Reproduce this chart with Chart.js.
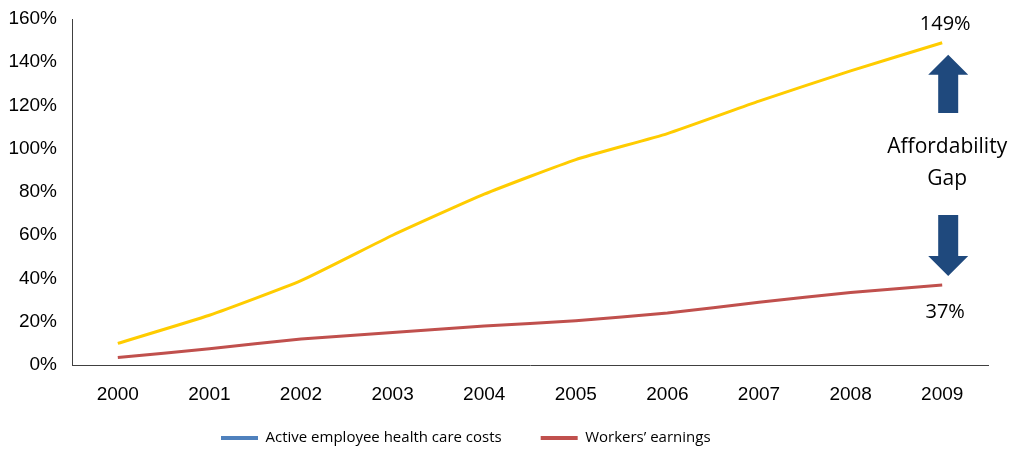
<!DOCTYPE html>
<html>
<head>
<meta charset="utf-8">
<script src="https://cdn.jsdelivr.net/npm/chart.js@4"></script>
<style>
html, body { margin:0; padding:0; background:#fff; }
#wrap { width:1010px; height:449px; }
</style>
</head>
<body>
<div id="wrap"><canvas id="chart" width="1010" height="449"></canvas></div>
<script>

const years = ["2000","2001","2002","2003","2004","2005","2006","2007","2008","2009"]
const healthCosts = [10, 23, 39, 60, 79, 95, 107, 122, 136, 149]
const earnings = [3.5, 7.5, 12, 15, 18, 20.5, 24, 29, 33.5, 37]
const seriesNames = ["Active employee health care costs", "Workers\u2019 earnings"]
const lineColors = ["#ffcc00", "#c0504d"]
const legendColors = ["#4f81bd", "#c0504d"]
const endLabels = ["149%", "37%"]
const gapLabel = ["Affordability", "Gap"]

const legendPad = 39
const legendSize = 15

// moves legend into place after the layout has run
const legendShift = {
id: "legendShift",
afterLayout(chart){
const lg = chart.legend
const dx = 221 - (lg.left + legendPad)
const dy = 438 - (lg.top + legendPad + legendSize / 2)
lg.left += dx
lg.right += dx
lg.top += dy
lg.bottom += dy
}
}

function arrow(ctx, cx, yTip, yEnd, up){
const headH = 20, headW = 20, shaftW = 10
const dir = up ? 1 : -1
const yBase = yTip + dir * headH
ctx.beginPath()
ctx.moveTo(cx, yTip)
ctx.lineTo(cx + headW, yBase)
ctx.lineTo(cx + shaftW, yBase)
ctx.lineTo(cx + shaftW, yEnd)
ctx.lineTo(cx - shaftW, yEnd)
ctx.lineTo(cx - shaftW, yBase)
ctx.lineTo(cx - headW, yBase)
ctx.closePath()
ctx.fill()
}

const gapNotes = {
id: "gapNotes",
afterDraw(chart){
const ctx = chart.ctx
const x = chart.scales.x.getPixelForValue(years.length - 1)
const yTop = chart.scales.y.getPixelForValue(healthCosts[healthCosts.length - 1])
const yBot = chart.scales.y.getPixelForValue(earnings[earnings.length - 1])
ctx.save()
ctx.fillStyle = "#000"
ctx.textAlign = "center"
ctx.textBaseline = "middle"
ctx.font = "20px 'Open Sans'"
ctx.fillText(endLabels[0], x + 3, yTop - 18)
ctx.fillText(endLabels[1], x + 3, yBot + 27)
ctx.font = "21px 'Open Sans'"
ctx.fillText(gapLabel[0], x + 5, 147)
ctx.fillText(gapLabel[1], x + 5, 179)
ctx.fillStyle = "#1f497d"
arrow(ctx, x + 6, yTop + 12, 113, true)
arrow(ctx, x + 6, yBot - 9, 215, false)
ctx.restore()
}
}

new Chart(document.getElementById("chart"), {
type: "line",
data: {
labels: years,
datasets: [
{
label: seriesNames[0],
data: healthCosts,
borderColor: lineColors[0],
backgroundColor: lineColors[0],
borderWidth: 3,
pointRadius: 0,
tension: 0.15
},
{
label: seriesNames[1],
data: earnings,
borderColor: lineColors[1],
backgroundColor: lineColors[1],
borderWidth: 3,
pointRadius: 0,
tension: 0.15
}
]
},
options: {
responsive: false,
animation: false,
layout: { padding: { top: 19, right: 22, left: 0, bottom: -20 } },
plugins: {
tooltip: { enabled: false },
legend: {
position: "bottom",
align: "start",
labels: {
color: "#000",
font: { family: "'Open Sans'", size: legendSize },
boxWidth: 37,
boxHeight: 4,
padding: legendPad,
generateLabels(chart){
return chart.data.datasets.map((d, i) => ({
text: d.label,
fillStyle: legendColors[i],
strokeStyle: legendColors[i],
lineWidth: 0,
datasetIndex: i
}))
}
}
}
},
scales: {
x: {
offset: true,
grid: { display: false, drawTicks: false },
border: { display: true, color: "#404040", width: 1 },
ticks: { color: "#000", font: { family: "'Liberation Sans'", size: 19 }, padding: 18, maxRotation: 0 },
afterFit(scale){ scale.height = 40 }
},
y: {
min: 0,
max: 160,
// tick marks hidden, their length only spaces the labels
grid: { display: false, drawTicks: true, tickLength: 15 },
border: { display: true, color: "#404040", width: 1 },
ticks: {
stepSize: 20,
color: "#000",
font: { family: "'Liberation Sans'", size: 19 },
padding: 0,
callback: v => v + "%"
},
afterFit(scale){ scale.width = 72 }
}
}
},
plugins: [legendShift, gapNotes]
})

</script>
</body>
</html>
